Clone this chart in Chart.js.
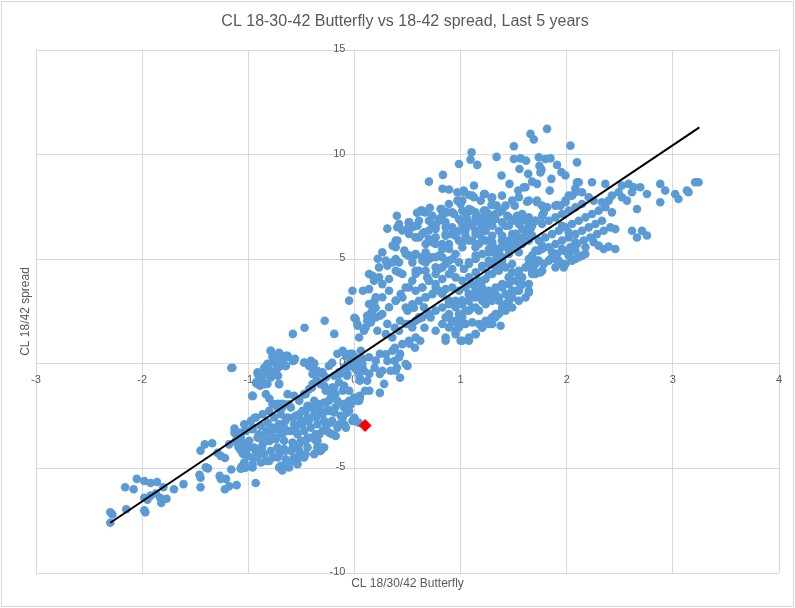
<!DOCTYPE html>
<html><head><meta charset="utf-8">
<script src="https://cdn.jsdelivr.net/npm/chart.js@4.4.1/dist/chart.umd.min.js"></script>
<style>html,body{margin:0;padding:0;background:#fff}#wrap{width:795px;height:608px;position:relative}</style>
</head><body><div id="wrap"><canvas id="c"></canvas></div>
<script>
const titleText = 'CL 18-30-42 Butterfly vs 18-42 spread, Last 5 years';
const xTitle = 'CL 18/30/42 Butterfly';
const yTitle = 'CL 18/42 spread';
const xRange = [-3, 4];
const yRange = [-10, 15];
const xStep = 1;
const yStep = 5;

const tailPts = [[-2.30,-7.6],[-2.30,-7.1],[-2.28,-7.2],[-2.15,-6.95],[-1.98,-7.0],[-1.97,-7.1],[-2.16,-5.9],[-2.08,-6.0],[-2.05,-5.5],[-1.98,-5.6],[-1.92,-5.7],[-1.86,-5.65],[-1.98,-6.4],[-1.95,-6.5],[-1.92,-6.3],[-1.87,-6.2],[-1.83,-6.4],[-1.82,-6.65],[-1.77,-6.45],[-1.80,-5.9],[-1.70,-6.0],[-1.61,-5.75],[-1.45,-5.9],[-1.46,-5.3],[-1.45,-5.45],[-1.38,-5.0],[-1.40,-4.95],[-1.27,-5.35],[-1.26,-5.5],[-1.21,-5.5],[-1.22,-6.0],[-1.18,-5.85],[-1.11,-5.8],[-1.16,-5.05],[-1.07,-5.0],[-1.06,-4.9],[-0.93,-5.7],[-1.45,-4.15],[-1.41,-3.85],[-1.34,-3.8],[-1.29,-4.25],[-1.26,-4.4],[-1.22,-4.5],[-1.18,-3.85],[-1.13,-3.3],[-1.11,-3.25],[-1.03,-3.2],[-1.08,-4.0],[-1.07,-4.05],[-1.16,-0.2],[-0.96,-1.55],[-0.91,-0.5],[-0.89,-0.65],[-0.92,-0.95],[-0.89,-1.05]];

const lowPts = [[-0.79,0.62],[-0.77,0.38],[-0.71,0.53],[-0.75,0.14],[-0.82,0],[-0.85,-0.19],[-0.68,0.24],[-0.63,0.33],[-0.58,0.14],[-0.72,-0.19],[-0.79,-0.33],[-0.84,-0.43],[-0.75,-0.48],[-0.71,-0.96],[-0.80,-1.67],[-0.72,-1.91],[-0.68,-1.91],[-0.65,0.38],[-0.56,0.24],[-0.70,-0.1],[-0.65,-0.1],[-0.72,-0.57],[-0.82,-0.96],[-0.47,0.05],[-0.41,0.14],[-0.40,-0.19],[-0.35,-0.43],[-0.30,-0.48],[-0.24,-0.1],[-0.21,0.05],[-0.14,-0.48],[-0.07,-0.57],[-0.04,0.48],[0.01,0.29],[0.06,-0.1],[0.09,-0.33],[-0.05,-0.1],[0.05,-0.81],[0.14,-0.48],[0.10,-1.29],[0.05,-1.63],[0.03,-1.77],
[-0.96,-1.53],[-0.74,-1.93],[-0.68,-2.09],[-0.62,-1.93],[-0.52,-1.77],[-0.46,-1.45],[-0.40,-1.13],[-0.36,-0.81],[-0.32,-0.97],[-0.27,-1.29],[-0.21,-1.13],[-0.18,-1.45],[-0.11,-1.29],[-0.24,-1.77],[-0.33,-1.93],[-0.40,-2.09],[-0.46,-2.25],[-0.52,-2.41],[-0.58,-2.57],[-0.65,-2.73],[-0.71,-2.89],[-0.77,-3.05],[-0.83,-3.21],[-0.90,-3.37],[-0.96,-3.05],[-1.02,-3.21],[-1.09,-3.37],[-1.12,-3.69],[-1.05,-3.84],[-0.99,-4.00],[-0.93,-4.16],[-0.87,-4.00],[-0.80,-3.69],[-0.74,-3.53],[-0.68,-3.37],[-0.62,-3.21],[-0.55,-3.05],[-0.49,-2.89],[-0.43,-2.73],[-0.36,-2.57],[-0.30,-2.41],[-0.24,-2.25],[-0.18,-2.09],[-0.11,-1.93],[-0.05,-1.77],[-0.21,-2.73],[-0.14,-2.89],[-0.08,-3.05],[-0.27,-3.05],[-0.33,-3.37],[-0.40,-3.53],[-0.46,-3.69],[-0.52,-3.84],[-0.58,-4.00],[-0.65,-4.16],[-0.71,-4.32],[-0.77,-4.48],[-0.83,-4.64],[-0.90,-4.32],[-0.96,-4.48],[-1.02,-4.32],[-1.09,-4.00],[-0.33,-4.16],[-0.30,-4.00],[-0.36,-3.69],[-0.21,-3.37],[-0.11,-2.57],[-0.07,-2.33],[0.00,-2.73],[0.04,-2.81],[-0.65,-4.80],[-0.58,-4.64],[-0.52,-4.48],[-0.46,-4.32],[-0.71,-4.96],[-0.96,-4.96],
[-0.68,-5.1],[-0.65,-4.8],[-0.35,-4.0],[-0.32,-4.16],[-0.47,1.72],[-0.28,2.06],[-0.58,1.43],[-0.19,1.43],[-1.15,-0.19],[-0.94,-2.58],[-1.07,-3.3],[-1.13,-3.1],[-1.10,-3.83],[-1.05,-4.31],[-1.03,-4.98],[-1.07,-5.02],[-0.09,-1.91],[-0.05,-2.25],[0,-2.58],[0.03,-1.77],[0.05,-1.53],[0.12,-0.81],[0.14,-1.29],[0.19,-0.19],[0.24,-0.48],[0.28,-0.96],[0.24,-1.39],[0.38,0.14],[0.34,-0.33],[0.40,-0.19],[0.43,-0.67],[0.50,-0.1],[0.31,0.14],[0.24,0.48],[0.38,0.77],[0.43,0.48],[0.52,0.96],[0.57,0.77],[0.62,1.10],[0,2.2],[0.03,1.82],[0.09,1.58],[0.12,2.06],[0.15,2.39],[0.20,2.68],[0.24,2.30],[0.31,1.91],[0.38,1.72],[0.43,2.06],[0.50,2.54],[0.56,2.68],[0.61,2.15],[0.66,1.72],[-0.16,0.48],[-0.11,0.62],[-0.08,0.38],[-0.02,0.48],[0.06,0.62],[0.08,0.24],[-0.05,0.05],[-0.04,-0.1],[0,-0.19],[0.06,-0.24],[0.05,-0.67]];

const lowDense = [[-0.787,0.62],[-0.771,0.30],[-0.709,0.49],[-0.630,0.38],[-0.677,0.14],[-0.756,0.06],[-0.818,-0.10],[-0.724,-0.18],[-0.646,-0.10],[-0.568,0.17],[-0.474,0.06],[-0.427,-0.10],[-0.379,0.02],[-0.348,-0.34],[-0.395,-0.49],[-0.301,-0.41],[-0.270,-0.65],[-0.191,-0.57],[-0.144,-0.41],[-0.097,-0.18],[-0.050,0.38],[-0.019,0.46],[0.028,0.14],[0.075,-0.18],[0.028,-0.34],[-0.066,-0.49],[-0.912,-0.41],[-0.865,-0.65],[-0.803,-0.41],[-0.850,-0.97],[-0.928,-0.89],[-0.787,-0.65],[-0.709,-0.97],[-0.960,-1.53],[-0.834,-1.45],
[-0.630,-1.45],[-0.568,-1.53],[-0.521,-1.69],[-0.474,-1.45],[-0.427,-1.21],[-0.395,-0.97],[-0.348,-0.81],[-0.285,-1.05],[-0.238,-1.29],[-0.191,-1.13],[-0.144,-0.89],[-0.097,-1.05],[-0.050,-1.29],[-0.003,-1.61],[0.044,-1.77],[-0.034,-1.93],[-0.097,-2.09],[-0.160,-1.77],[-0.223,-1.61],[-0.285,-1.85],[-0.332,-2.09],[-0.379,-1.77],[-0.442,-2.01],[-0.489,-2.25],[-0.552,-2.49],[-0.599,-2.09],[-0.662,-1.93],[-0.724,-2.09],[-0.771,-1.93],[-0.803,-2.25],[-0.865,-2.41],[-0.928,-2.57],[-0.975,-2.73],[-1.038,-2.89],[-0.960,-3.13],[-0.881,-2.97],[-0.818,-2.81],[-0.756,-2.57],[-0.693,-2.41],[-0.630,-2.57],[-0.568,-2.89],[-0.505,-2.73],[-0.442,-2.57],[-0.379,-2.41],[-0.317,-2.33],[-0.254,-2.17],[-0.191,-2.33],[-0.129,-2.49],[-0.066,-2.33],[-0.019,-2.73],[-0.097,-2.89],[-0.160,-3.05],[-0.223,-2.81],[-0.285,-2.73],[-0.348,-2.89],[-0.411,-3.05],[-0.474,-3.21],[-0.536,-3.37],[-0.599,-3.21],[-0.662,-3.05],[-0.724,-3.13],[-0.787,-3.29],[-0.850,-3.45],[-0.912,-3.53],[-0.991,-3.68],[-1.054,-4.00],[-1.069,-3.53],[-0.944,-4.00],[-0.865,-3.84],[-0.803,-3.68],[-0.740,-3.60],[-0.662,-3.68],[-0.583,-3.76],[-0.505,-3.68],[-0.442,-3.53],[-0.364,-3.37],[-0.301,-3.21],[-0.238,-3.29],[-0.176,-3.45],[-0.348,-3.68],[-0.285,-4.00],[-0.317,-4.16],[-0.379,-4.32],[-0.442,-4.00],[-0.521,-4.16],[-0.599,-4.16],[-0.662,-4.08],[-0.724,-4.00],[-0.787,-4.16],[-0.850,-4.32],[-0.928,-4.48],[-1.007,-4.40],[-1.069,-4.16],[-1.038,-4.72],[-0.960,-4.80],[-0.881,-4.72],[-0.803,-4.64],[-0.724,-4.48],[-0.646,-4.56],[-0.568,-4.48],[-0.474,-4.48],[-0.536,-4.80],[-0.615,-4.96],[-0.693,-4.88],[-0.332,-4.00]];

const midPts = [[0.012,2.14],[0.028,1.90],[0.106,1.74],[0.154,1.98],[0.201,2.22],[0.169,2.54],[0.138,2.86],[0.138,3.57],[0.185,3.97],[0.232,4.13],[0.263,3.81],[0.326,4.05],[0.357,4.85],[0.389,5.01],[0.420,4.37],[0.404,6.53],[0.389,5.89],[0.514,6.76],[0.545,6.53],[0.608,6.84],[0.639,7.32],[0.577,6.05],[0.514,5.17],[0.561,5.17],[0.639,5.09],[0.671,4.85],[0.608,4.45],[0.545,3.97],[0.483,3.65],[0.436,3.34],[0.389,3.02],[0.326,2.70],[0.263,2.38],[0.201,3.18],[0.263,3.18],[0.326,3.49],[0.216,1.58],[0.295,1.42],[0.357,1.26],[0.420,1.58],[0.483,1.90],[0.545,1.74],[0.577,1.26],[0.514,1.10],[0.451,0.94],[0.608,2.22],[0.655,2.70],[0.671,3.18],[0.639,3.65],[0.686,4.13],[0.718,2.22],[0.765,1.58],[0.828,1.90],[0.890,2.22],[0.859,1.26],[0.953,1.58],[1.016,1.90],[1.000,1.10],[1.078,1.10],[1.141,1.42],[1.204,1.74],[1.266,1.90],[1.329,2.22],[1.392,2.54],[1.455,3.02],[1.517,3.49],[1.580,3.81],[1.643,3.49],[1.674,4.45],[1.705,4.77],[1.737,5.41],[1.643,5.89],[1.580,5.73],[1.517,5.57],[1.455,5.25],[1.392,4.93],[1.329,4.61],[1.266,4.29],[1.204,3.97],[1.141,3.65],[1.078,3.34],[1.016,3.02],[0.953,2.70],[0.890,3.02],[0.828,3.34],[0.765,3.65],[0.702,3.97],[0.765,4.29],[0.828,4.61],[0.890,4.93],[0.953,5.25],[1.016,5.57],[1.078,5.89],[1.141,6.21],[1.204,6.53],[1.266,6.84],[1.329,7.16],[1.392,7.32],[1.455,7.00],[1.517,6.84],[1.580,7.16],[1.643,6.69],[1.705,6.84],[0.828,5.73],[0.765,6.05],[0.702,6.37],[0.733,6.69],[0.796,6.84],[0.859,6.53],[0.922,6.21],[0.984,5.89],[1.047,6.37],[1.110,6.69],[1.172,7.00],[1.235,7.32],[1.298,7.64],[0.828,7.32],[0.890,7.64],[0.984,7.80],[1.047,7.16],[1.016,6.69],[1.141,5.57],[1.204,5.25],[1.266,4.93],[1.329,5.25],[1.392,5.57],[1.455,5.89],[1.517,6.21],[1.266,5.89],[1.204,5.89],[0.828,5.09],[0.765,5.09],[0.702,5.09],[0.671,5.73],[0.639,6.21],[0.514,6.21],[0.451,6.37],[0.389,5.57],[0.295,4.93],[0.232,4.61],[0.138,4.29],[0.263,5.33],[-0.019,3.49],[-0.050,3.02],[0.044,1.26],[-0.082,0.46],[-0.019,0.15],[0.075,-0.01],[0.138,0.31],[0.201,0.15],[0.295,0.46],[0.357,0.62],[0.420,0.31],[0.483,-0.01],[0.389,-0.33],[0.263,-0.33],
[0.891,2.38],[0.953,2.06],[1.016,2.22],[1.079,2.54],[1.142,2.69],[1.204,3.01],[1.267,3.17],[1.330,3.33],[1.392,3.65],[1.455,3.81],[1.518,3.97],[1.580,4.13],[1.643,3.41],[1.455,3.01],[1.392,2.69],[1.330,2.38],[1.267,2.06],[1.204,1.74],[1.142,1.42],[1.079,1.26],[1.016,1.10],[0.953,1.42],[0.891,1.74],[0.859,1.10],[1.298,1.90],[1.377,1.82],[1.455,4.13],[1.549,4.45],[1.612,4.61],[1.674,4.77],[1.737,4.93],[1.769,4.45],[1.706,4.29],[1.549,3.49],[1.486,3.17],[1.424,2.85],[1.361,3.01],[1.204,3.65],[1.142,3.49],[1.079,3.33],[1.016,3.01],[0.953,2.85],[0.891,3.01],[1.831,4.93],[1.894,5.09],[1.957,4.77],[1.863,5.33],[2.019,5.25],[2.082,5.41],[2.145,5.17],[2.176,5.57]];

const midDense = [[0.420,6.68],[0.514,6.76],[0.593,6.60],[0.577,6.04],[0.405,5.89],[0.483,5.25],[0.577,5.25],[0.671,5.33],[0.734,5.09],[0.640,4.93],[0.546,4.85],[0.420,4.85],[0.389,4.45],[0.452,4.29],[0.577,4.29],[0.671,4.45],[0.765,4.61],[0.859,4.77],[0.922,5.01],[0.985,4.85],[1.032,4.53],[1.079,4.77],[1.142,5.01],[1.204,5.25],[1.267,5.33],[1.330,5.49],[1.392,5.65],[1.455,5.73],[1.518,5.89],[1.581,6.04],[1.628,6.20],[1.549,6.68],[1.486,6.84],[1.424,6.60],[1.361,6.36],[1.298,6.12],[1.236,5.89],[1.173,5.73],[1.110,5.89],[1.047,6.12],[0.985,6.36],[0.922,6.52],[0.859,6.76],[0.797,6.92],[0.734,7.08],[0.671,7.24],[0.624,7.32],[0.812,7.40],[0.875,7.24],[0.938,7.16],[1.016,7.32],[1.079,7.40],[1.142,7.00],[1.204,6.84],[1.267,6.68],[1.314,6.92],[1.361,7.24],[1.424,7.56],[1.486,7.80],[1.549,7.96],[1.298,7.96],[1.220,8.12],[1.110,8.04],[1.016,7.80],[1.063,6.92],[1.000,6.84],[0.953,6.12],[0.891,5.73],[0.828,5.49],[0.765,5.73],[0.702,5.96],[0.655,6.28],[0.765,6.44],[0.859,6.20],[1.142,6.36],[1.189,6.12],[1.236,6.36],[1.298,5.73],[1.392,5.09],[1.330,4.93],[1.267,4.77],[1.204,4.61],[1.142,4.37],[1.079,4.13],[1.016,3.97],[0.953,4.13],[0.891,4.29],[0.828,4.05],[0.765,3.81],[0.702,3.97],[0.640,3.65],[0.577,3.49],[0.514,3.65],[0.452,3.17],[0.389,3.01],[0.483,2.69],[0.546,2.85],[0.608,3.01],[0.671,3.17],[0.734,3.33],[0.797,3.49],[0.859,3.57],[0.922,3.65],[0.985,3.49],[1.047,3.65],[1.110,3.81],[1.173,3.97],[1.236,4.05],[1.298,4.29],[1.361,4.45],[1.424,4.61],[1.486,4.77],[1.549,4.29],[1.455,4.13],[1.392,3.81],[1.330,3.65],[1.267,3.49],[1.204,3.33],[1.142,3.17],[1.079,3.01],[1.016,2.85],[0.953,3.01],[0.891,2.85],[0.828,2.69],[0.765,2.54],[0.702,2.38],[0.640,2.22],[0.577,2.06],[0.514,1.90],[0.985,2.38],[1.047,2.54],[1.110,2.69],[1.173,2.54],[1.236,2.85],[1.298,3.01],[1.361,3.17],[1.424,3.33],[1.486,3.49],[1.565,3.73],[1.612,3.17],[1.549,3.01],[1.486,2.69],[1.424,2.54],[1.361,2.38],[1.298,2.22],[1.236,2.06],[1.173,1.90],[1.110,1.98],[1.047,1.90],[0.985,1.74],[0.922,1.98],[0.859,2.22]];

const upperPts = [[1.815,11.23],[1.659,10.99],[1.690,10.72],[2.035,10.43],[1.502,10.40],[1.104,10.11],[1.094,9.76],[0.985,9.55],[1.157,9.51],[1.339,9.89],[1.502,9.79],[1.565,9.82],[1.618,9.71],[1.737,9.87],[1.800,9.79],[1.847,9.82],[1.555,9.31],[1.637,9.08],[1.743,9.47],[1.762,9.28],[1.909,9.51],[1.950,9.16],[1.988,9.00],[2.097,9.63],[0.834,9.03],[0.702,8.71],[1.386,9.00],[1.461,8.60],[1.543,8.28],[1.596,8.44],[1.674,8.71],[1.721,8.60],[1.856,8.84],[0.891,8.33],[0.969,8.20],[1.032,8.20],[1.079,8.07],[1.126,8.52],[1.126,7.96],[1.229,8.12],[1.292,7.91],[1.292,7.59],[1.000,7.64],[0.822,7.40],[0.922,7.24],[1.063,7.24],[1.141,7.24],[1.220,7.32],[1.235,7.08],[0.640,7.27],[0.514,6.76],[0.577,6.60],[0.702,6.84],[0.765,6.60],[0.828,7.08],[0.985,6.92],[1.047,6.76],[1.110,6.60],[1.173,6.76],[1.251,6.76],[1.329,6.92],[1.392,6.76],[1.455,6.60],[1.533,7.08],[1.580,7.00],[1.627,7.75],[1.721,7.72],[1.784,7.24],[1.815,7.48],[1.909,7.59],[1.988,7.80],[2.050,8.04],[2.082,8.39],[2.097,8.68],[0.608,6.04],[0.734,5.81],[0.859,6.12],[0.922,6.20],[1.235,6.36],[1.298,5.81],[1.392,6.12],[1.486,6.20],[1.580,6.44],[1.674,6.60],[1.768,7.08],[1.956,6.60],[2.019,6.28],[2.082,5.81],[1.956,5.49],[2.019,5.17],[1.894,5.01],[2.082,5.01],[1.768,5.49],[1.643,5.01],[1.549,5.33],[1.455,5.49],[1.361,5.33],[1.267,5.49],[1.141,5.17],[1.016,5.81],[0.891,5.49],[0.796,5.17],[0.702,5.01],[0.577,5.25],[0.514,5.17],[1.079,4.85],[1.204,4.69],[1.392,4.69],[1.486,4.37],[0.922,4.53],[0.796,4.53],[0.577,4.45],
[0.97,7.8],[1.03,8.28],[1.11,7.32],[1.19,7.8],[1.26,7.18],[1.34,7.56],[1.39,8.04],[1.44,7.08],[1.51,7.56],[1.58,6.84],[1.04,6.6],[1.16,6.27],[1.30,6.6],[1.39,5.89],[1.53,6.12],[1.66,6.46],[1.77,7.08],[1.72,7.8],[1.84,8.28],[1.94,7.56],[0.31,6.46],[0.40,7.08],[0.50,6.46],[0.59,7.22],[0.71,7.46],[0.83,8.37],[0.36,5.65],[0.47,5.41],[0.22,5.02],[0.31,4.69],[0.17,4.21],[0.08,3.49],[0.19,3.01],[0.12,2.30]];

const rightPts = [[1.752,9.15],[2.238,8.68],[2.113,8.68],[2.364,8.60],[2.520,8.52],[2.583,8.60],[2.630,8.44],[2.693,8.44],[2.881,8.60],[2.928,8.28],[3.022,8.12],[3.053,7.88],[3.132,8.28],[3.148,8.20],[3.210,8.68],[3.242,8.68],[2.881,7.72],[2.756,8.12],[2.662,7.40],[1.611,8.44],[1.643,7.80],[1.768,7.56],[1.815,7.48],[1.894,7.56],[1.988,7.72],[2.019,8.04],[2.082,8.20],[2.144,8.20],[2.207,7.96],[2.254,7.80],[2.332,7.72],[2.395,7.80],[2.426,8.04],[2.489,8.20],[2.520,7.96],[2.568,7.80],[2.615,8.20],[2.144,7.64],[2.082,7.48],[2.019,7.32],[1.956,7.16],[1.894,7.00],[1.831,6.84],[1.768,6.68],[1.705,6.84],[1.643,7.00],[1.611,6.36],[1.674,6.13],[1.737,5.89],[1.799,6.04],[1.862,6.20],[1.925,6.36],[1.988,6.52],[2.050,6.68],[2.113,6.84],[2.176,7.00],[2.238,7.16],[2.301,7.32],[2.364,7.48],[2.426,7.24],[2.332,6.84],[2.270,6.68],[2.207,6.52],[2.144,6.36],[2.082,6.20],[2.019,6.04],[1.956,5.89],[1.894,5.73],[1.831,5.57],[1.768,5.65],[1.705,5.41],[1.674,5.17],[1.721,4.93],[1.784,4.77],[1.846,5.01],[1.909,5.25],[1.972,5.41],[2.035,5.57],[2.097,5.73],[2.160,5.89],[2.223,6.04],[2.285,6.20],[2.348,6.36],[2.411,6.52],[2.458,6.44],[2.254,5.81],[2.301,5.65],[2.348,5.49],[2.395,5.60],[2.458,5.49],[2.176,5.25],[2.113,5.09],[2.050,4.93],[1.988,4.77],[1.925,4.93],[1.894,4.61],[1.972,4.61],[1.643,4.77],[1.690,4.45],[1.752,4.37],[2.615,6.36],[2.662,6.04],[2.709,6.36],[2.756,6.13],[1.643,3.81],[1.674,4.29]];

const trendLine = [[-2.30,-7.6],[3.25,11.3]];
const latestPt = [[0.10,-2.95]];

const toXY = arr => arr.map(p => ({x: p[0], y: p[1]}));
const allPts = tailPts.concat(lowPts, lowDense, midPts, midDense, upperPts, rightPts);

const FONT = "'Liberation Sans', Arial, sans-serif";
const TXT = '#595959';
const GRID = '#d9d9d9';

const decor = {
  id: 'decor',
  beforeDatasetsDraw(chart) {
    // y tick labels, placed left of the crossing axis like the source
    const ctx = chart.ctx;
    const ys = chart.scales.y, xs = chart.scales.x;
    const ax = xs.getPixelForValue(0);
    ctx.save();
    ctx.fillStyle = TXT;
    ctx.font = '11px ' + FONT;
    ctx.textAlign = 'right';
    ctx.textBaseline = 'middle';
    ys.ticks.forEach(t => {
      ctx.fillText(String(t.value), ax - 9, ys.getPixelForValue(t.value) - 1);
    });
    ctx.restore();
  },
  afterDraw(chart) {
    const ctx = chart.ctx;
    const a = chart.chartArea;
    ctx.save();
    ctx.fillStyle = TXT;
    ctx.textAlign = 'center';
    ctx.textBaseline = 'middle';
    ctx.font = '16px ' + FONT;
    ctx.fillText(titleText, 405, 22);
    ctx.font = '12px ' + FONT;
    ctx.fillText(xTitle, (a.left + a.right) / 2, 584);
    ctx.translate(26, (a.top + a.bottom) / 2);
    ctx.rotate(-Math.PI / 2);
    ctx.fillText(yTitle, 0, 0);
    ctx.restore();
    ctx.save();
    ctx.strokeStyle = GRID;
    ctx.lineWidth = 1;
    ctx.strokeRect(1.5, 1.5, chart.width - 3, chart.height - 3);
    ctx.restore();
  }
};

new Chart(document.getElementById('c'), {
  type: 'scatter',
  data: {
    datasets: [
      { label: 'Trend', data: toXY(trendLine), showLine: true, borderColor: '#000000', borderWidth: 2, pointRadius: 0, fill: false, order: 1 },
      { label: 'Latest', data: toXY(latestPt), pointStyle: 'rectRot', pointRadius: 6.5, backgroundColor: '#FF0000', borderColor: '#FF0000', borderWidth: 0, order: 2 },
      { label: 'History', data: toXY(allPts), pointRadius: 4.3, backgroundColor: '#5B9BD5', borderColor: '#5B9BD5', borderWidth: 0, order: 3 }
    ]
  },
  options: {
    responsive: true,
    maintainAspectRatio: false,
    animation: false,
    layout: { padding: { left: 36, right: 16, top: 50, bottom: 35 } },
    plugins: { legend: { display: false }, tooltip: { enabled: false }, title: { display: false } },
    scales: {
      x: {
        type: 'linear', min: xRange[0], max: xRange[1], position: { y: 0 },
        ticks: { stepSize: xStep, color: TXT, font: { family: FONT, size: 11 }, padding: 10 },
        grid: { color: GRID, lineWidth: 1, drawTicks: false },
        border: { color: GRID, width: 1 }
      },
      y: {
        type: 'linear', min: yRange[0], max: yRange[1], position: { x: 0 },
        ticks: { display: false, stepSize: yStep },
        grid: { color: GRID, lineWidth: 1, drawTicks: false },
        border: { color: GRID, width: 1 }
      }
    }
  },
  plugins: [decor]
});
</script></body></html>
